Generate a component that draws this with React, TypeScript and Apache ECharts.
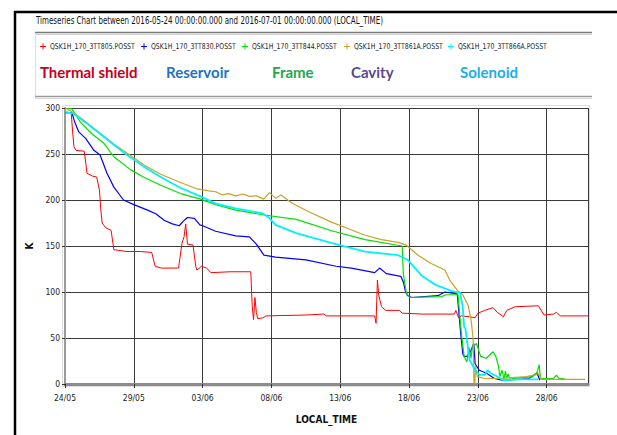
import React, { useEffect, useRef } from "react";
import * as echarts from "echarts";

// x = days since 2016-05-24 00:00 (LOCAL_TIME), y = temperature in K
const START_UTC = Date.UTC(2016, 4, 24);
const X_MIN_DAY = 0;
const X_MAX_DAY = 38;
const X_TICK_DAYS = 5;
const Y_TICKS = [0, 50, 100, 150, 200, 250, 300];

const SERIES_NAMES = [
  "QSK1H_170_3TT805.POSST",
  "QSK1H_170_3TT830.POSST",
  "QSK1H_170_3TT844.POSST",
  "QSK1H_170_3TT861A.POSST",
  "QSK1H_170_3TT866A.POSST",
];
const SERIES_COLORS = ["#ff0000", "#0000ff", "#00e000", "#c9a227", "#00f0ff"];
const LABELS = ["Thermal shield", "Reservoir", "Frame", "Cavity", "Solenoid"];
const LABEL_COLORS = ["#c4001a", "#1f72c0", "#22a84a", "#5b4a8b", "#1aafe6"];

const THERMAL_SHIELD: [number, number][] = [
  [0, 295], [0.45, 295], [0.55, 275], [0.65, 258], [0.8, 254], [1.4, 253], [1.6, 229], [2.0, 226],
  [2.3, 225], [2.5, 211], [2.6, 190], [2.7, 175], [2.95, 170], [3.35, 167], [3.55, 146], [4.5, 144],
  [5.5, 144], [6.3, 143], [6.55, 128], [7.0, 126], [8.25, 126], [8.5, 153], [8.65, 160], [8.77, 174],
  [8.9, 152], [9.3, 151], [9.5, 128], [9.57, 124], [9.7, 125], [9.9, 128], [10.3, 126], [10.6, 121],
  [12.0, 122], [13.5, 122], [13.6, 85], [13.7, 70], [13.8, 94], [13.9, 78], [14.0, 71], [14.4, 72],
  [14.6, 74], [17.5, 75], [18.8, 76], [19.0, 74], [22.5, 74], [22.6, 66], [22.7, 113], [22.8, 96],
  [23.0, 84], [23.3, 80], [24.3, 80], [24.5, 77], [26.0, 76], [28.3, 76], [28.4, 80], [28.6, 72],
  [28.8, 74], [29.4, 73], [29.8, 72], [30.0, 77], [30.5, 80], [31.1, 83], [31.4, 78], [31.6, 76],
  [31.85, 73], [32.1, 80], [32.7, 84], [34.4, 85], [34.8, 75], [35.5, 76], [35.7, 78], [36.0, 74],
  [38, 74],
];

const RESERVOIR: [number, number][] = [
  [0, 295], [0.5, 295], [0.7, 285], [1.0, 274], [1.5, 267], [2.1, 254], [2.55, 249], [3.05, 229],
  [3.55, 214], [4.25, 200], [5.0, 195], [6.0, 189], [6.6, 185], [7.2, 178], [7.8, 174], [8.3, 172],
  [8.6, 177], [8.9, 181], [9.4, 180], [9.8, 173], [10.0, 172], [10.95, 166], [12.4, 161], [13.4, 160],
  [13.9, 152], [14.45, 140], [15.3, 138], [17.5, 135], [19.7, 128], [20.8, 126], [22.5, 121],
  [22.86, 126], [23.35, 120], [24.4, 117], [24.6, 110], [24.75, 100], [24.9, 96], [25.2, 94],
  [27.1, 96], [27.6, 100], [28.5, 98], [28.75, 55], [28.9, 33], [29.0, 30], [29.2, 30], [29.4, 33],
  [29.7, 44], [29.8, 22], [30.1, 15], [30.6, 12], [31.2, 6], [31.85, 4], [33.7, 6], [34.3, 12],
  [34.5, 4],
];

const FRAME: [number, number][] = [
  [0, 300], [0.5, 299], [1.1, 285], [1.95, 272], [2.8, 262], [3.55, 247], [4.75, 233], [5.7, 225],
  [6.95, 216], [8.4, 207], [9.85, 201], [10.95, 195], [12.4, 189], [14.35, 184], [16.8, 179],
  [19.5, 166], [21.8, 157], [24.5, 150], [24.58, 120], [24.8, 99], [25.05, 94], [27.35, 95],
  [27.7, 97], [28.55, 97], [28.8, 55], [29.0, 30], [29.2, 24], [29.35, 40], [29.5, 28], [29.6, 40],
  [29.9, 44], [30.2, 30], [30.6, 28], [31.1, 35], [31.3, 30], [31.5, 19], [31.6, 8], [31.75, 15],
  [31.9, 5], [32.0, 14], [32.1, 6], [32.2, 11], [32.35, 5], [32.6, 6], [34.0, 8], [34.3, 13],
  [34.45, 21], [34.55, 6], [35.5, 6], [35.7, 9.5], [35.9, 6], [36.3, 6],
];

const CAVITY: [number, number][] = [
  [0, 300], [0.6, 295], [1.6, 284], [2.55, 272.5], [3.55, 261], [4.5, 251], [5.75, 238], [6.95, 228],
  [8.4, 219], [9.6, 212], [10.45, 210], [10.95, 209], [11.45, 205.5], [11.9, 207], [12.4, 204.5],
  [12.9, 206.5], [13.4, 204], [13.9, 204.5], [14.45, 201], [14.85, 208], [15.3, 202], [15.7, 205.5],
  [16.5, 196.5], [17.75, 187], [19.35, 176], [20.55, 169], [21.75, 162], [23.0, 157], [24.2, 154],
  [24.8, 151], [25.65, 140], [26.6, 131], [27.6, 124], [27.95, 113], [28.55, 101], [28.9, 97],
  [29.3, 85], [29.5, 70], [29.65, 50], [29.72, 0], [29.78, 0], [29.82, 20], [29.95, 8], [30.5, 6],
  [31.5, 6], [32.5, 7], [33.5, 8], [34.2, 10], [34.4, 12], [34.6, 5], [37.8, 5],
];

const SOLENOID: [number, number][] = [
  [0, 296], [0.6, 294], [1.6, 283], [2.55, 272], [3.55, 260], [4.5, 249], [5.75, 236], [6.95, 225],
  [8.4, 213], [9.85, 204], [10.95, 196], [12.4, 191], [14.35, 185.5], [14.8, 181], [15.3, 173],
  [16.8, 164], [19.4, 153], [21.8, 144], [24.2, 140], [24.9, 135], [25.9, 118], [26.9, 108],
  [28.1, 101], [28.7, 99], [28.9, 84], [29.0, 62], [29.1, 60], [29.2, 48], [29.4, 26], [29.8, 15],
  [30.1, 10], [30.5, 10], [30.7, 15], [30.9, 12], [31.3, 9], [31.85, 4], [33.0, 5], [34.4, 5],
];

const SERIES_DATA = [THERMAL_SHIELD, RESERVOIR, FRAME, CAVITY, SOLENOID];
const SERIES_WIDTHS = [1, 1.2, 1.2, 1.2, 1.8];

const TITLE = "Timeseries Chart between 2016-05-24 00:00:00.000 and 2016-07-01 00:00:00.000 (LOCAL_TIME)";
const X_NAME = "LOCAL_TIME";
const Y_NAME = "K";

const NARROW = "'Liberation Sans Narrow', 'Arial Narrow', 'DejaVu Sans Condensed', sans-serif";
const LABEL_FONT = "Lato, 'Open Sans', sans-serif";

// layout
const LEGEND_X = [43, 144, 245, 347, 451];
const LABEL_X = [40, 166, 272, 351, 460];

function dayLabel(d: number): string {
  const dt = new Date(START_UTC + d * 86400000);
  const dd = String(dt.getUTCDate()).padStart(2, "0");
  const mm = String(dt.getUTCMonth() + 1).padStart(2, "0");
  return dd + "/" + mm;
}

export default function App() {
  const ref = useRef<HTMLDivElement>(null);
  useEffect(() => {
    if (!ref.current) return;
    const chart = echarts.init(ref.current, null, { renderer: "svg" });
    const graphic: any[] = [
      { type: "line", shape: { x1: 14, y1: 12, x2: 617, y2: 12 }, style: { stroke: "#000", lineWidth: 2.5 } },
      { type: "line", shape: { x1: 15, y1: 11, x2: 15, y2: 435 }, style: { stroke: "#000", lineWidth: 2.5 } },
      {
        type: "text", x: 36, y: 21, scaleX: 0.79,
        style: { text: TITLE, font: `10px ${NARROW}`, fill: "#111", verticalAlign: "middle" },
      },
      { type: "line", shape: { x1: 35, y1: 32.5, x2: 592, y2: 32.5 }, style: { stroke: "#7a7a7a", lineWidth: 1.5 } },
      { type: "line", shape: { x1: 35, y1: 34.5, x2: 592, y2: 34.5 }, style: { stroke: "#d0d0d0", lineWidth: 1 } },
      { type: "line", shape: { x1: 35.5, y1: 33, x2: 35.5, y2: 97 }, style: { stroke: "#dddddd", lineWidth: 1 } },
      { type: "line", shape: { x1: 35, y1: 96.5, x2: 592, y2: 96.5 }, style: { stroke: "#9a9a9a", lineWidth: 1.5 } },
      { type: "line", shape: { x1: 35, y1: 98.5, x2: 592, y2: 98.5 }, style: { stroke: "#d8d8d8", lineWidth: 1 } },
      { type: "rect", shape: { x: 62.5, y: 105.5, width: 527, height: 281 }, style: { fill: "none", stroke: "#dcdcdc", lineWidth: 1 } },
    ];
    SERIES_NAMES.forEach((name, i) => {
      const x = LEGEND_X[i];
      const y = 46.5;
      graphic.push({ type: "line", shape: { x1: x - 3, y1: y, x2: x + 3, y2: y }, style: { stroke: SERIES_COLORS[i], lineWidth: 1 } });
      graphic.push({ type: "line", shape: { x1: x, y1: y - 3, x2: x, y2: y + 3 }, style: { stroke: SERIES_COLORS[i], lineWidth: 1 } });
      graphic.push({
        type: "text", x: x + 7, y, scaleX: 0.86,
        style: { text: name, font: `8px ${NARROW}`, fill: "#222", verticalAlign: "middle" },
      });
    });
    LABELS.forEach((label, i) => {
      graphic.push({
        type: "text", x: LABEL_X[i], y: 72,
        style: { text: label, font: `bold 15px ${LABEL_FONT}`, fill: LABEL_COLORS[i], verticalAlign: "middle" },
      });
    });

    chart.setOption({
      animation: false,
      backgroundColor: "#ffffff",
      grid: { left: 65, right: 29, top: 108, bottom: 51, containLabel: false },
      graphic,
      xAxis: {
        type: "value",
        min: X_MIN_DAY,
        max: X_MAX_DAY,
        interval: X_TICK_DAYS,
        name: X_NAME,
        nameLocation: "middle",
        nameGap: 30,
        nameTextStyle: { fontFamily: NARROW, fontWeight: "bold", fontSize: 10, color: "#111" },
        axisLine: { show: true, lineStyle: { color: "#8c8c8c", width: 3 } },
        axisTick: { show: true, length: 4, lineStyle: { color: "#333" } },
        axisLabel: {
          fontFamily: NARROW, fontSize: 8.5, color: "#222", margin: 9, showMaxLabel: false,
          formatter: (v: number) => (v % X_TICK_DAYS === 0 ? dayLabel(v) : ""),
        },
        splitLine: { show: true, lineStyle: { color: "#3a3a3a", width: 1 } },
      },
      yAxis: {
        type: "value",
        min: Y_TICKS[0],
        max: Y_TICKS[Y_TICKS.length - 1],
        interval: 50,
        name: Y_NAME,
        nameLocation: "middle",
        nameGap: 23,
        nameRotate: 90,
        nameTextStyle: { fontFamily: NARROW, fontWeight: "bold", fontSize: 10, color: "#111" },
        axisLine: { show: true, lineStyle: { color: "#9a9a9a", width: 2 } },
        axisTick: { show: true, length: 3, lineStyle: { color: "#333" } },
        axisLabel: { fontFamily: NARROW, fontSize: 8.5, color: "#222", margin: 5 },
        splitLine: { show: true, lineStyle: { color: "#3a3a3a", width: 1 } },
      },
      series: SERIES_NAMES.map((name, i) => ({
        name,
        type: "line",
        data: SERIES_DATA[i],
        showSymbol: false,
        symbol: "none",
        lineStyle: { color: SERIES_COLORS[i], width: SERIES_WIDTHS[i] },
        itemStyle: { color: SERIES_COLORS[i] },
        z: 2 + i,
      })),
    });
    return () => chart.dispose();
  }, []);
  return (
    <div
      ref={ref}
      style={{ position: "fixed", left: 0, top: 0, width: 617, height: 435, background: "#fff" }}
    />
  );
}
